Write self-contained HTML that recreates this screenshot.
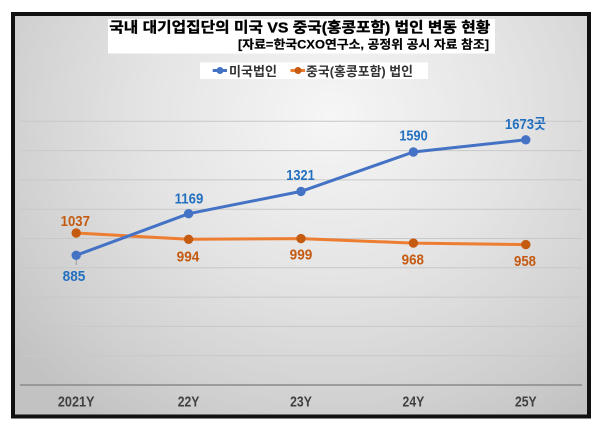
<!DOCTYPE html>
<html>
<head>
<meta charset="utf-8">
<style>
html,body{margin:0;padding:0;background:#fff;}
svg{display:block;}
</style>
</head>
<body>
<svg width="600" height="430" viewBox="0 0 600 430" xmlns="http://www.w3.org/2000/svg">
  <defs>
    <radialGradient id="bg" gradientUnits="userSpaceOnUse" cx="330" cy="115" r="390" gradientTransform="translate(330 115) scale(1.05 0.95) translate(-330 -115)">
      <stop offset="0" stop-color="#f6f6f6"/>
      <stop offset="0.45" stop-color="#e4e4e4"/>
      <stop offset="0.8" stop-color="#d0d0d0"/>
      <stop offset="1" stop-color="#c2c2c2"/>
    </radialGradient>
  </defs>
  <rect x="0" y="0" width="600" height="430" fill="#ffffff"/>
  <!-- frame -->
  <rect x="13" y="14" width="576" height="402.5" fill="url(#bg)" stroke="#111" stroke-width="4"/>

  <!-- title box -->
  <rect x="108" y="19" width="387" height="34.5" fill="#ffffff"/>
  <text x="109.3" y="32.5" font-family="'Liberation Sans','Noto Sans CJK KR',sans-serif" font-weight="700" font-size="14.5" fill="#000" stroke="#000" stroke-width="0.35" textLength="381" lengthAdjust="spacingAndGlyphs">국내 대기업집단의 미국 VS 중국(홍콩포함) 법인 변동 현황</text>
  <text x="238" y="48.5" font-family="'Liberation Sans','Noto Sans CJK KR',sans-serif" font-weight="700" font-size="12" fill="#000" stroke="#000" stroke-width="0.2" textLength="251" lengthAdjust="spacingAndGlyphs">[자료=한국CXO연구소, 공정위 공시 자료 참조]</text>

  <!-- legend -->
  <rect x="200" y="62.5" width="228" height="16.5" fill="#ffffff"/>
  <line x1="212.7" y1="70.5" x2="227" y2="70.5" stroke="#4472C4" stroke-width="3"/>
  <circle cx="220" cy="70.5" r="3.5" fill="#4472C4"/>
  <text x="229" y="76" font-family="'Liberation Sans','Noto Sans CJK KR',sans-serif" font-weight="700" font-size="13" fill="#333" textLength="48" lengthAdjust="spacingAndGlyphs">미국법인</text>
  <line x1="290.5" y1="70.5" x2="305" y2="70.5" stroke="#ED7D31" stroke-width="3"/>
  <circle cx="298" cy="70.5" r="3.5" fill="#C55A11"/>
  <text x="306" y="76" font-family="'Liberation Sans','Noto Sans CJK KR',sans-serif" font-weight="700" font-size="13" fill="#333" textLength="107" lengthAdjust="spacingAndGlyphs">중국(홍콩포함) 법인</text>

  <!-- gridlines -->
  <g stroke="#c8c8c8" stroke-width="1">
    <line x1="20" y1="355.7" x2="582" y2="355.7"/>
    <line x1="20" y1="326.4" x2="582" y2="326.4"/>
    <line x1="20" y1="297.1" x2="582" y2="297.1"/>
    <line x1="20" y1="267.8" x2="582" y2="267.8"/>
    <line x1="20" y1="238.5" x2="582" y2="238.5"/>
    <line x1="20" y1="209.2" x2="582" y2="209.2"/>
    <line x1="20" y1="179.9" x2="582" y2="179.9"/>
    <line x1="20" y1="150.6" x2="582" y2="150.6"/>
    <line x1="20" y1="121.3" x2="582" y2="121.3"/>
  </g>
  <line x1="20" y1="385" x2="582" y2="385" stroke="#8a8a8a" stroke-width="1.6"/>

  <!-- axis labels -->
  <g font-family="'Liberation Sans',sans-serif" font-weight="700" font-size="14.5" fill="#404040" text-anchor="middle">
    <text x="76.2" y="406.5" textLength="36.6" lengthAdjust="spacingAndGlyphs">2021Y</text>
    <text x="188.6" y="406.5" textLength="21.7" lengthAdjust="spacingAndGlyphs">22Y</text>
    <text x="301" y="406.5" textLength="21.7" lengthAdjust="spacingAndGlyphs">23Y</text>
    <text x="413.4" y="406.5" textLength="21.7" lengthAdjust="spacingAndGlyphs">24Y</text>
    <text x="525.8" y="406.5" textLength="21.7" lengthAdjust="spacingAndGlyphs">25Y</text>
  </g>

  <!-- leader line 885 -->
  <line x1="76.2" y1="259" x2="76.2" y2="265" stroke="#9a9a9a" stroke-width="1"/>

  <!-- orange series -->
  <polyline points="76.2,233.0 188.6,239.3 301,238.6 413.4,243.1 525.8,244.6" fill="none" stroke="#ED7D31" stroke-width="3" stroke-linejoin="round"/>
  <g fill="#C55A11">
    <circle cx="76.2" cy="233.0" r="4.7"/>
    <circle cx="188.6" cy="239.3" r="4.7"/>
    <circle cx="301" cy="238.6" r="4.7"/>
    <circle cx="413.4" cy="243.1" r="4.7"/>
    <circle cx="525.8" cy="244.6" r="4.7"/>
  </g>

  <!-- blue series -->
  <polyline points="76.2,255.3 188.6,213.7 301,191.4 413.4,152.0 525.8,139.8" fill="none" stroke="#4472C4" stroke-width="3" stroke-linejoin="round"/>
  <g fill="#4472C4">
    <circle cx="76.2" cy="255.3" r="4.7"/>
    <circle cx="188.6" cy="213.7" r="4.7"/>
    <circle cx="301" cy="191.4" r="4.7"/>
    <circle cx="413.4" cy="152.0" r="4.7"/>
    <circle cx="525.8" cy="139.8" r="4.7"/>
  </g>

  <!-- blue labels -->
  <g font-family="'Liberation Sans','Noto Sans CJK KR',sans-serif" font-weight="700" font-size="14.5" fill="#2470C0" text-anchor="middle">
    <text x="74" y="281" textLength="22.7" lengthAdjust="spacingAndGlyphs">885</text>
    <text x="189" y="203.3" textLength="28.7" lengthAdjust="spacingAndGlyphs">1169</text>
    <text x="300.5" y="180.2" textLength="28.5" lengthAdjust="spacingAndGlyphs">1321</text>
    <text x="413.5" y="140.6" textLength="28.3" lengthAdjust="spacingAndGlyphs">1590</text>
    <text x="525.5" y="129" textLength="41" lengthAdjust="spacingAndGlyphs">1673곳</text>
  </g>

  <!-- orange labels -->
  <g font-family="'Liberation Sans',sans-serif" font-weight="700" font-size="14.5" fill="#C55A11" text-anchor="middle">
    <text x="75.3" y="226" textLength="29.3" lengthAdjust="spacingAndGlyphs">1037</text>
    <text x="188" y="261.5" textLength="22.7" lengthAdjust="spacingAndGlyphs">994</text>
    <text x="301" y="259.5" textLength="22.7" lengthAdjust="spacingAndGlyphs">999</text>
    <text x="412.8" y="264.5" textLength="22.3" lengthAdjust="spacingAndGlyphs">968</text>
    <text x="525" y="266" textLength="22" lengthAdjust="spacingAndGlyphs">958</text>
  </g>
</svg>
</body>
</html>
